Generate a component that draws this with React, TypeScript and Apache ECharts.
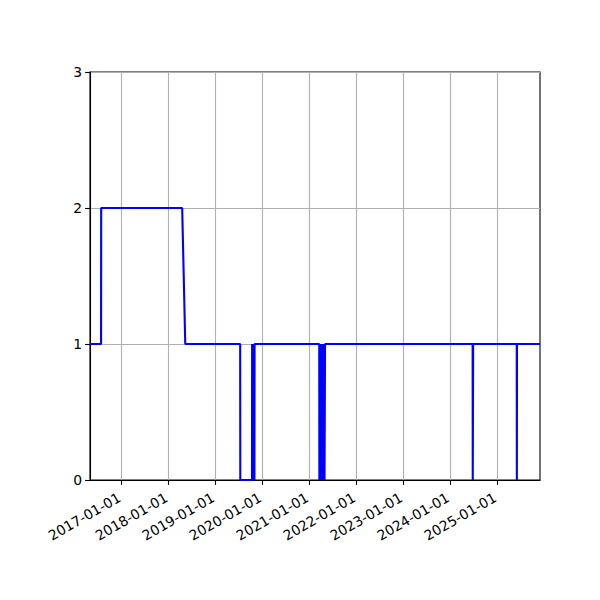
import { useEffect, useRef } from "react";
import * as echarts from "echarts";

// readings (date, level)
const dates = [
  "2016-05-01", "2016-07-26", "2016-07-27",
  "2018-04-18", "2018-05-12",
  "2019-07-13", "2019-07-14",
  "2019-10-13", "2019-10-14", "2019-10-18", "2019-10-21", "2019-10-25", "2019-10-28", "2019-11-01", "2019-11-02",
  "2021-03-19", "2021-03-20", "2021-03-24", "2021-03-28", "2021-04-01", "2021-04-05", "2021-04-09",
  "2021-04-13", "2021-04-17", "2021-04-21", "2021-04-25", "2021-04-29", "2021-05-03", "2021-05-08",
  "2024-06-24", "2024-06-25", "2024-06-28",
  "2025-06-02", "2025-06-03", "2025-06-04",
  "2025-11-30",
];
const values = [
  1, 1, 2,
  2, 1,
  1, 0,
  0, 1, 0, 1, 0, 1, 0, 1,
  1, 0, 1, 0, 1, 0, 1,
  0, 1, 0, 1, 0, 1, 1,
  1, 0, 1,
  1, 0, 1,
  1,
];
const xStart = "2016-05-01";
const xEnd = "2025-11-30";
const yearTicks = [
  "2017-01-01", "2018-01-01", "2019-01-01", "2020-01-01", "2021-01-01",
  "2022-01-01", "2023-01-01", "2024-01-01", "2025-01-01",
];
const yTicks = [0, 1, 2, 3];

// ISO date -> UTC ms, so the x axis can be a plain value axis
const ms = (d: string) => Date.parse(d + "T00:00:00Z");

export default function App() {
  const chartRef = useRef<HTMLDivElement>(null);

  useEffect(() => {
    if (!chartRef.current) return;
    const chart = echarts.init(chartRef.current, null, { renderer: "svg" });
    const font = { fontFamily: "DejaVu Sans", fontSize: 13.9, color: "#000" };
    const ticks = yearTicks.map(ms);

    chart.setOption({
      animation: false,
      backgroundColor: "#fff",
      grid: {
        left: 90,
        right: 60,
        top: 72,
        bottom: 120,
        show: true,
        borderColor: "#000",
        borderWidth: 1.1,
      },
      xAxis: {
        type: "value",
        min: ms(xStart),
        max: ms(xEnd),
        axisLine: { show: true, onZero: false, lineStyle: { color: "#000", width: 1.1 } },
        axisTick: {
          show: true,
          length: 4.9,
          customValues: ticks,
          lineStyle: { color: "#000", width: 1.1 },
        },
        axisLabel: {
          ...font,
          rotate: 30,
          margin: 15,
          padding: [0, 2.5, 0, 0],
          customValues: ticks,
          formatter: (v: number) => new Date(v).toISOString().slice(0, 10),
        },
        splitLine: { show: true, lineStyle: { color: "#b0b0b0", width: 1.1 } },
      },
      yAxis: {
        type: "value",
        min: yTicks[0],
        max: yTicks[yTicks.length - 1],
        interval: 1,
        axisLine: { show: true, lineStyle: { color: "#000", width: 1.1 } },
        axisTick: { show: true, length: 4.9, lineStyle: { color: "#000", width: 1.1 } },
        axisLabel: { ...font, margin: 8 },
        splitLine: { show: true, lineStyle: { color: "#b0b0b0", width: 1.1 } },
      },
      series: [
        {
          type: "line",
          data: dates.map((d, i) => [ms(d), values[i]]),
          showSymbol: false,
          symbol: "none",
          lineStyle: { color: "#0000ff", width: 2.1 },
          itemStyle: { color: "#0000ff" },
        },
      ],
    });

    return () => chart.dispose();
  }, []);

  return (
    <div
      ref={chartRef}
      style={{ position: "fixed", left: 0, top: 0, width: 600, height: 600 }}
    />
  );
}
